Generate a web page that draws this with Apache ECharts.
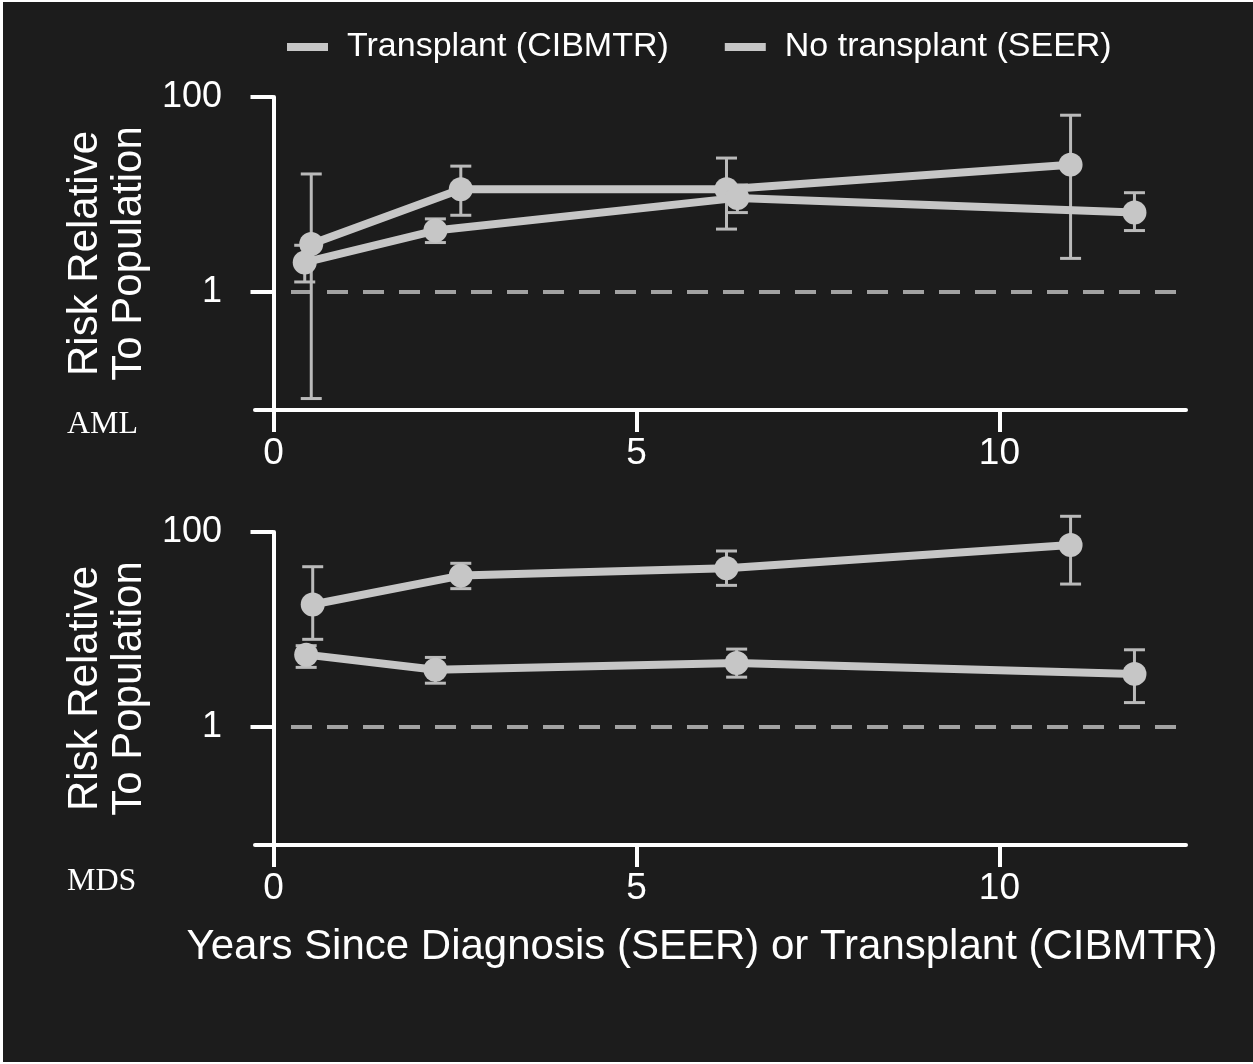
<!DOCTYPE html>
<html>
<head>
<meta charset="utf-8">
<script src="https://cdn.jsdelivr.net/npm/echarts@6/dist/echarts.min.js"></script>
<style>
html,body{margin:0;padding:0;background:#ffffff;}
#chart{width:1253px;height:1064px;}
</style>
</head>
<body>
<div id="chart"></div>
<script>
// ---- data ----
const seriesNames = ['Transplant (CIBMTR)', 'No transplant (SEER)'];
const panelLabels = ['AML', 'MDS'];
const xTickValues = [0, 5, 10];
const yTickValues = [1, 100];
const yAxisTitle = 'Risk Relative\nTo Population';
const xAxisTitle = 'Years Since Diagnosis (SEER) or Transplant (CIBMTR)';

// AML panel
const amlTransplantYears = [0.52, 2.58, 6.24, 10.98];
const amlTransplantRisk  = [3.1, 11.3, 11.3, 20.2];
const amlTransplantLow   = [0.08, 6.1, 4.4, 2.2];
const amlTransplantHigh  = [16.2, 19.5, 23.6, 65];
const amlSeerYears = [0.43, 2.23, 6.39, 11.86];
const amlSeerRisk  = [2.0, 4.25, 9.2, 6.5];
const amlSeerLow   = [1.26, 3.2, 6.5, 4.25];
const amlSeerHigh  = [3.0, 5.6, 12.5, 10.4];

// MDS panel
const mdsTransplantYears = [0.54, 2.58, 6.24, 10.98];
const mdsTransplantRisk  = [18, 35.7, 42.4, 73.4];
const mdsTransplantLow   = [7.9, 26.2, 28.3, 29.2];
const mdsTransplantHigh  = [44, 47.7, 63.8, 145];
const mdsSeerYears = [0.45, 2.23, 6.38, 11.86];
const mdsSeerRisk  = [5.5, 3.84, 4.52, 3.49];
const mdsSeerLow   = [4.07, 2.8, 3.23, 1.77];
const mdsSeerHigh  = [6.8, 5.15, 6.27, 6.17];

// ---- styling ----
const BG = '#1c1c1c';
const LINE_COLOR = '#c6c6c6';
const ERR_COLOR = '#bababa';
const DASH_COLOR = '#a2a2a2';
const FONT = '"Liberation Sans", Arial, Helvetica, sans-serif';

const panels = [
  {label: panelLabels[0], tx: amlTransplantYears, ty: amlTransplantRisk, tlo: amlTransplantLow, thi: amlTransplantHigh,
   sx: amlSeerYears, sy: amlSeerRisk, slo: amlSeerLow, shi: amlSeerHigh},
  {label: panelLabels[1], tx: mdsTransplantYears, ty: mdsTransplantRisk, tlo: mdsTransplantLow, thi: mdsTransplantHigh,
   sx: mdsSeerYears, sy: mdsSeerRisk, slo: mdsSeerLow, shi: mdsSeerHigh}
];

const zip2 = (a, b) => a.map((v, i) => [v, b[i]]);
const zip3 = (a, b, c) => a.map((v, i) => [v, b[i], c[i]]);

function renderErrorBar(params, api) {
  const x = api.value(0), lo = api.value(1), hi = api.value(2);
  const pLo = api.coord([x, lo]);
  const pHi = api.coord([x, hi]);
  const half = 10.5;
  const style = {stroke: ERR_COLOR, lineWidth: 3, fill: null};
  return {
    type: 'group',
    children: [
      {type: 'line', shape: {x1: pHi[0], y1: pHi[1], x2: pLo[0], y2: pLo[1]}, style: style},
      {type: 'line', shape: {x1: pHi[0] - half, y1: pHi[1], x2: pHi[0] + half, y2: pHi[1]}, style: style},
      {type: 'line', shape: {x1: pLo[0] - half, y1: pLo[1], x2: pLo[0] + half, y2: pLo[1]}, style: style}
    ]
  };
}

const gridTops = [97, 532];
const gridHeight = 313;
const grids = gridTops.map(t => ({left: 255, right: 67, top: t, height: gridHeight, containLabel: false}));

const axisLineStyle = {color: '#ffffff', width: 4};

const xAxes = gridTops.map((t, i) => ({
  type: 'value', gridIndex: i, min: -0.255, max: 12.57,
  axisLine: {show: true, onZero: false, lineStyle: axisLineStyle},
  axisTick: {show: true, inside: false, length: 22, lineStyle: {color: '#ffffff', width: 4}, customValues: xTickValues},
  axisLabel: {show: true, customValues: xTickValues, color: '#ffffff', fontSize: 37, fontFamily: FONT, margin: 25},
  splitLine: {show: false}
}));

const yAxes = gridTops.map((t, i) => ({
  type: 'log', logBase: 10, gridIndex: i, min: 0.061, max: 100,
  name: yAxisTitle, nameLocation: 'middle', nameRotate: 90, nameGap: 96,
  nameTextStyle: {color: '#ffffff', fontSize: 42, fontFamily: FONT, lineHeight: 44, align: 'center'},
  axisLine: {show: true, lineStyle: axisLineStyle},
  axisTick: {show: true, inside: false, length: 23, lineStyle: {color: '#ffffff', width: 4}, customValues: yTickValues},
  axisLabel: {show: true, customValues: yTickValues, color: '#ffffff', fontSize: 36, fontFamily: FONT, margin: 33,
    formatter: v => String(Math.round(v))},
  splitLine: {show: false}
}));

const series = [];
panels.forEach((p, i) => {
  series.push({
    type: 'custom', xAxisIndex: i, yAxisIndex: i, z: 1, silent: true,
    renderItem: renderErrorBar, data: zip3(p.tx, p.tlo, p.thi), encode: {x: 0, y: [1, 2]}
  });
  series.push({
    type: 'custom', xAxisIndex: i, yAxisIndex: i, z: 1, silent: true,
    renderItem: renderErrorBar, data: zip3(p.sx, p.slo, p.shi), encode: {x: 0, y: [1, 2]}
  });
  series.push({
    name: seriesNames[0], type: 'line', xAxisIndex: i, yAxisIndex: i, z: 3,
    data: zip2(p.tx, p.ty), symbol: 'circle', symbolSize: 24, showSymbol: true,
    itemStyle: {color: LINE_COLOR}, lineStyle: {color: LINE_COLOR, width: 8},
    markLine: {
      silent: true, symbol: 'none', label: {show: false}, z: 0,
      lineStyle: {type: [21, 15], color: DASH_COLOR, width: 4},
      data: [{yAxis: 1}]
    }
  });
  series.push({
    name: seriesNames[1], type: 'line', xAxisIndex: i, yAxisIndex: i, z: 3,
    data: zip2(p.sx, p.sy), symbol: 'circle', symbolSize: 24, showSymbol: true,
    itemStyle: {color: LINE_COLOR}, lineStyle: {color: LINE_COLOR, width: 8}
  });
});

const chart = echarts.init(document.getElementById('chart'), null, {renderer: 'canvas'});
chart.setOption({
  backgroundColor: BG,
  animation: false,
  legend: {
    left: 287, top: 30, padding: 0, itemGap: 56,
    itemWidth: 41, itemHeight: 8,
    data: seriesNames.map(n => ({name: n, icon: 'rect'})),
    textStyle: {color: '#ffffff', fontSize: 34, fontFamily: FONT, padding: [0, 0, 0, 14]}
  },
  grid: grids,
  xAxis: xAxes,
  yAxis: yAxes,
  series: series,
  graphic: [
    {type: 'rect', shape: {x: 0, y: 0, width: 3, height: 1064}, style: {fill: '#ffffff'}, z: 100},
    {type: 'rect', shape: {x: 0, y: 0, width: 1253, height: 2}, style: {fill: '#ffffff'}, z: 100},
    {type: 'rect', shape: {x: 0, y: 1062, width: 1253, height: 2}, style: {fill: '#ffffff'}, z: 100},
    {type: 'text', x: 67, y: 441, style: {text: panels[0].label, fill: '#ffffff', font: '32px "Liberation Serif", "Times New Roman", serif', textAlign: 'left', textVerticalAlign: 'bottom'}},
    {type: 'text', x: 67, y: 898, style: {text: panels[1].label, fill: '#ffffff', font: '32px "Liberation Serif", "Times New Roman", serif', textAlign: 'left', textVerticalAlign: 'bottom'}},
    {type: 'text', x: 702, y: 947, style: {text: xAxisTitle, fill: '#ffffff', font: '42px "Liberation Sans", Arial, sans-serif', textAlign: 'center', textVerticalAlign: 'middle'}}
  ]
});
</script>
</body>
</html>
